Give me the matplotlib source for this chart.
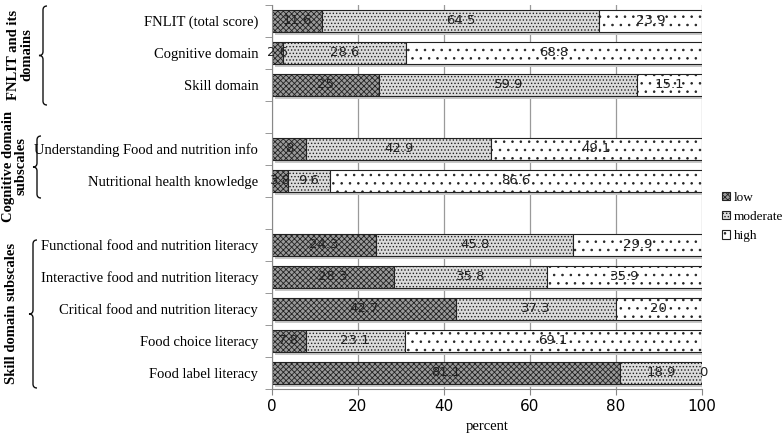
import matplotlib.pyplot as plt
from matplotlib.path import Path
from matplotlib.patches import PathPatch

# data (top to bottom), None = empty gap row
categories = ["FNLIT (total score)", "Cognitive domain", "Skill domain", None,
              "Understanding Food and nutrition info", "Nutritional health knowledge", None,
              "Functional food and nutrition literacy", "Interactive food and nutrition literacy",
              "Critical food and nutrition literacy", "Food choice literacy", "Food label literacy"]
low = [11.6, 2.6, 25, None, 8, 3.8, None, 24.3, 28.3, 42.7, 7.8, 81.1]
moderate = [64.5, 28.6, 59.9, None, 42.9, 9.6, None, 45.8, 35.8, 37.3, 23.1, 18.9]
high = [23.9, 68.8, 15.1, None, 49.1, 86.6, None, 29.9, 35.9, 20, 69.1, 0]

group_labels = ["FNLIT and its\ndomains", "Cognitive domain\nsubscales", "Skill domain subscales"]

serif = "Liberation Serif"
sans = "DejaVu Sans"

fig = plt.figure(figsize=(7.84, 4.38), dpi=100)
ax = fig.add_axes([0.347, 0.112, 0.548, 0.877])
plt.rcParams["hatch.linewidth"] = 0.6

styles = [("low", low, "#9a9a9a", "xxxxxx"),
          ("moderate", moderate, "#dcdcdc", "....."),
          ("high", high, "white", "..")]

rows = [i for i, c in enumerate(categories) if c is not None]
h = 0.7
# excel-like shadow under each bar
for i in rows:
    ax.barh(i + 0.1, 100, left=0.6, height=h, color="#c8c8c8", edgecolor="none", zorder=1)

left = {i: 0 for i in rows}
handles = []
for name, vals, fc, hatch in styles:
    ws = [vals[i] for i in rows]
    ls = [left[i] for i in rows]
    b = ax.barh(rows, ws, left=ls, height=h, color=fc, hatch=hatch,
                edgecolor="#222222", linewidth=0.8, zorder=2, label=name)
    handles.append(b)
    for i in rows:
        v = vals[i]
        xc = left[i] + v / 2
        if v == 0:
            xc = left[i] + 0.3
        ax.text(xc, i, f"{v:g}", ha="center", va="center", fontsize=9.5,
                family=sans, color="#222222", zorder=3)
        left[i] += v

ax.set_xlim(0, 100)
ax.set_ylim(11.5, -0.5)
ax.set_xticks(range(0, 101, 20))
ax.tick_params(axis="x", labelsize=11, length=4, color="#888888")
for t in ax.get_xticklabels():
    t.set_family(sans)
ax.set_yticks(rows)
ax.set_yticklabels([categories[i] for i in rows], family=serif, fontsize=10.5)
ax.tick_params(axis="y", which="major", length=0, pad=10)
ax.set_yticks([k - 0.5 for k in range(13)], minor=True)
ax.tick_params(axis="y", which="minor", length=5, color="#888888")
ax.grid(axis="x", color="#9a9a9a", linewidth=0.9, zorder=0)
ax.set_axisbelow(True)
for s in ["top", "right"]:
    ax.spines[s].set_visible(False)
for s in ["left", "bottom"]:
    ax.spines[s].set_color("#888888")
ax.set_xlabel("percent", family=serif, fontsize=10.5)

fig.legend(handles=handles, loc="center left", bbox_to_anchor=(0.912, 0.505),
           frameon=False, prop={"family": serif, "size": 9.5},
           handlelength=0.6, handleheight=0.6, handletextpad=0.3, labelspacing=0.55,
           borderpad=0)


def brace(x, y0, y1, w):
    # curly brace in figure pixel coords, opening to the right
    ym = (y0 + y1) / 2
    pts = [(x + w, y0), (x, y0), (x, y0 + w),
           (x, ym - w), (x, ym), (x - w, ym),
           (x, ym), (x, ym + w),
           (x, y1 - w), (x, y1), (x + w, y1)]
    codes = [Path.MOVETO, Path.CURVE3, Path.CURVE3,
             Path.LINETO, Path.CURVE3, Path.CURVE3,
             Path.CURVE3, Path.CURVE3,
             Path.LINETO, Path.CURVE3, Path.CURVE3]
    pts = [(px / 784, 1 - py / 438) for px, py in pts]
    fig.patches.append(PathPatch(Path(pts, codes), transform=fig.transFigure, fill=False,
                                 edgecolor="#111111", linewidth=1.0))


brace(43, 6, 105, 4)
brace(37, 136, 198, 4)
brace(33, 240, 388, 4)
fig.text(20 / 784, 1 - 55 / 438, group_labels[0], rotation=90, ha="center", va="center",
         family=serif, fontsize=10.5, weight="bold", linespacing=1.0)
fig.text(15 / 784, 1 - 166 / 438, group_labels[1], rotation=90, ha="center", va="center",
         family=serif, fontsize=10.5, weight="bold", linespacing=1.0)
fig.text(12 / 784, 1 - 313 / 438, group_labels[2], rotation=90, ha="center", va="center",
         family=serif, fontsize=10.5, weight="bold")

fig.savefig("out.png", dpi=100)
